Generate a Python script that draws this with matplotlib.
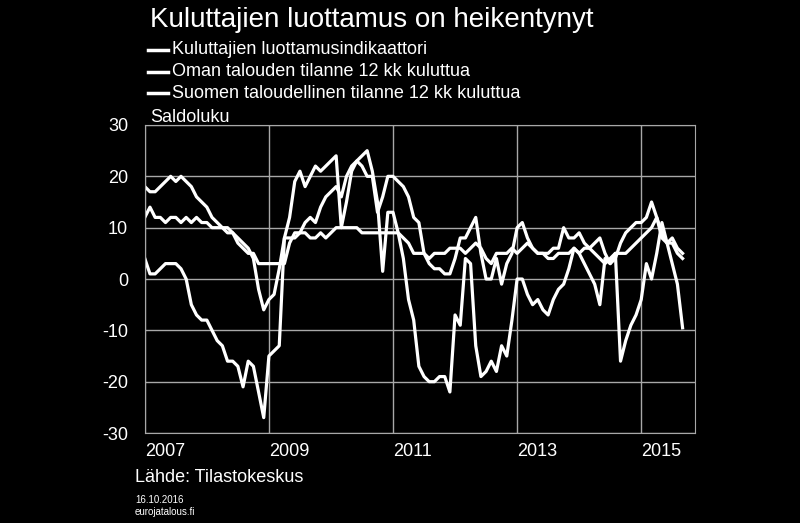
import matplotlib
matplotlib.use("Agg")
import matplotlib.pyplot as plt
import numpy as np

plt.rcParams["font.family"] = "Liberation Sans"
plt.rcParams["axes.unicode_minus"] = False

series_names = ["Kuluttajien luottamusindikaattori",
                "Oman talouden tilanne 12 kk kuluttua",
                "Suomen taloudellinen tilanne 12 kk kuluttua"]
start_year = 2007
confidence = [18,17,17,18,19,20,19,20,19,18,16,15,
              14,12,11,10,10,9,8,7,6,4,-2,-6,
              -4,-3,2,8,12,19,21,18,20,22,21,22,
              23,24,10,15,21,23,22,20,20,13,16,20,
              20,19,18,16,12,11,5,3,2,2,1,1,
              4,8,8,10,12,5,0,0,4,-1,3,5,
              10,11,8,6,5,5,5,6,6,10,8,8,
              9,7,6,7,8,5,3,4,7,9,10,11,
              11,12,15,12,9,7,8,6,5]
own_economy = [12,14,12,12,11,12,12,11,12,11,12,11,
               11,10,10,10,9,9,7,6,5,5,3,3,
               3,3,3,3,7,9,9,9,8,8,9,8,
               9,10,10,10,10,10,9,9,9,9,9,9,
               9,9,8,7,5,5,5,4,5,5,5,6,
               6,6,5,6,7,6,4,3,5,5,5,6,
               5,6,7,6,5,5,4,4,5,5,5,6,
               5,6,6,5,4,3,4,5,5,5,6,7,
               8,9,10,12,8,7,7,5,4]
finland_economy = [4,1,1,2,3,3,3,2,0,-5,-7,-8,
                   -8,-10,-12,-13,-16,-16,-17,-21,-16,-17,-22,-27,
                   -15,-14,-13,8,8,8,9,11,12,11,14,16,
                   17,18,16,20,22,23,24,25,21,15,1.5,13,
                   13,9,4,-4,-8,-17,-19,-20,-20,-19,-19,-22,
                   -7,-9,4,3,-13,-19,-18,-16,-18,-13,-15,-8,
                   0,0,-3,-5,-4,-6,-7,-4,-2,-1,2,6,
                   5,3,1,-1,-5,4,3,5,-16,-12,-9,-7,
                   -4,3,0,5,11,7,3,-1,-9.5]
year_ticks = [2007, 2009, 2011, 2013, 2015]
y_ticks = [-30, -20, -10, 0, 10, 20, 30]

n = len(confidence)
x = start_year + np.arange(n) / 12.0

fig = plt.figure(figsize=(8, 5.23), dpi=100, facecolor="black")
ax = fig.add_axes([0.181, 0.172, 0.688, 0.589], facecolor="black")
for s in (confidence, own_economy, finland_economy):
    ax.plot(x, s, color="white", lw=2.3)
ax.set_xlim(2007, 2015.87)
ax.set_ylim(-30, 30)
ax.set_yticks(y_ticks)
ax.set_xticks(year_ticks)
ax.set_xticklabels([])
ax.grid(True, color="#a8a8a8", lw=1)
ax.set_axisbelow(True)
for sp in ax.spines.values():
    sp.set_color("#a8a8a8")
ax.tick_params(colors="white", labelsize=13, length=0, pad=12)
for yr in year_ticks:
    ax.text(yr, -32, str(yr), color="white", fontsize=13, ha="left", va="top")

fig.text(150/800, 1-20/523, "Kuluttajien luottamus on heikentynyt", color="white",
         fontsize=20, va="center", ha="left")
for i, name in enumerate(series_names):
    yy = 1 - (50 + i*21.5)/523
    fig.add_artist(plt.Line2D([148/800, 168/800], [yy, yy], color="white", lw=2.5))
    fig.text(172/800, yy, name, color="white", fontsize=13, va="center", ha="left")
fig.text(150/800, 1-117/523, "Saldoluku", color="white", fontsize=13, va="center")
fig.text(135/800, 1-478/523, "Lähde: Tilastokeskus", color="white", fontsize=13, va="center")
fig.text(135/800, 1-500/523, "16.10.2016", color="white", fontsize=7, va="center")
fig.text(135/800, 1-512/523, "eurojatalous.fi", color="white", fontsize=7, va="center")
fig.savefig("out.png", dpi=100, facecolor="black")
